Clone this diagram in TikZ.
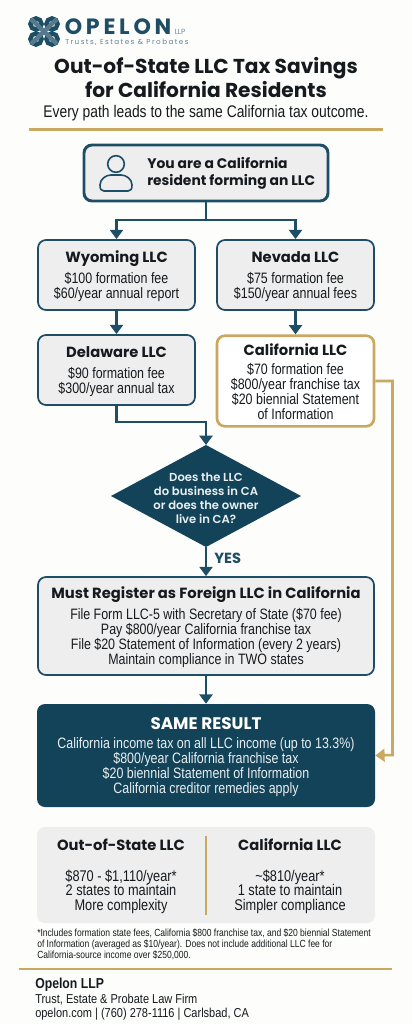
\documentclass[tikz,border=0pt]{standalone}
\usepackage{fontspec}
\setmainfont{Liberation Sans}
\newfontfamily\hdf{Poppins}
\newfontfamily\sbf{Poppins SemiBold}
\newfontfamily\bdf{Liberation Sans}[FakeStretch=0.825]
\newfontfamily\ftf{Liberation Sans}[FakeStretch=0.85]
\usetikzlibrary{arrows.meta,shapes.geometric}
\definecolor{bgc}{HTML}{FDFDFB}
\definecolor{navy}{HTML}{1D4E66}
\definecolor{deep}{HTML}{134359}
\definecolor{gold}{HTML}{C9A961}
\definecolor{panel}{HTML}{EEEEEE}
\definecolor{ink}{HTML}{151A1E}
\definecolor{soft}{HTML}{E9EFF1}
\newcommand{\hdm}[1]{{\rule{0pt}{10.5pt}\hdf\bfseries\fontsize{11.05}{13}\selectfont #1}}
\newcommand{\hdr}[1]{{\rule{0pt}{11.5pt}\hdf\bfseries\color{white}\fontsize{12.6}{13}\selectfont #1}}
\tikzset{
  x=0.75pt,y=-0.75pt,
  body/.style={font=\bdf\fontsize{11.3}{11.25}\selectfont,text=ink,align=center,inner sep=0pt},
  box/.style={body,draw=navy,line width=1.3pt,fill=panel,rounded corners=6pt,minimum width=117.75pt,minimum height=52.5pt},
  goldbox/.style={box,draw=gold,line width=2pt,fill=white,minimum height=68pt},
  widebox/.style={box,minimum width=252pt,minimum height=73.5pt},
  resultbox/.style={body,text=soft,fill=deep,rounded corners=6pt,minimum width=253.5pt,minimum height=77.25pt},
  startbox/.style={draw=navy,line width=2.2pt,fill=panel,rounded corners=6pt,minimum width=183pt,minimum height=42pt},
  decision/.style={diamond,fill=deep,minimum width=142.5pt,minimum height=76.5pt,inner sep=0pt,outer sep=0pt},
  cmp/.style={fill=panel,rounded corners=6pt,minimum width=253.5pt,minimum height=72pt,inner sep=0pt},
  cmptext/.style={body,font=\bdf\fontsize{11.6}{11.1}\selectfont},
  arr/.style={draw=navy,line width=2.2pt,-{Triangle[width=9.75pt,length=7pt]}},
  goldarr/.style={draw=gold,line width=1.9pt,-{Triangle[width=9.5pt,length=7pt]}},
  rule/.style={draw=gold,line width=2.2pt},
  ring/.style={draw=navy,line width=3.3pt},
}
\begin{document}
\begin{tikzpicture}
\useasboundingbox[fill=bgc] (0,0) rectangle (412,1024);
% logo
\foreach \cx/\cy in {36/24,52/24,36/39,52/39}{\draw[ring] (\cx,\cy) circle (5.6);}
\draw[ring,draw=navy!75!white] (31,44) -- (57,19) (31,19) -- (57,44);
\node[anchor=west,inner sep=0pt,text=navy,font=\hdf\bfseries\fontsize{16.6}{18}\selectfont\addfontfeature{LetterSpace=17}] (brand) at (64.5,26.5) {OPELON};
\node[anchor=west,inner sep=0pt,text=navy!65!white,font=\hdf\fontsize{5.6}{6}\selectfont] (llp) at (174.5,32) {LLP};
\node[anchor=west,inner sep=0pt,text=navy!70!white,font=\hdf\fontsize{5.4}{6}\selectfont\addfontfeature{LetterSpace=20}] (tag) at (65,42.5) {Trusts, Estates \& Probates};
% title
\node[inner sep=0pt,align=center,text=ink,font=\hdf\bfseries\fontsize{15.1}{17.4}\selectfont] (title) at (206,77.5) {Out-of-State LLC Tax Savings\\for California Residents};
\node[inner sep=0pt,text=ink,font=\bdf\fontsize{12.6}{14}\selectfont] (sub) at (206,113) {Every path leads to the same California tax outcome.};
\coordinate (r1a) at (29,129.5); \coordinate (r1b) at (383,129.5);
\draw[rule] (r1a) -- (r1b);
% start
\node[startbox] (start) at (206,173) {};
\draw[navy,line width=1.2pt] (116,164) circle (8.3);
\draw[navy,line width=1.2pt] (100,185) .. controls (100,179) and (106,175) .. (111,175) -- (121,175) .. controls (126,175) and (132,179) .. (132,185) .. controls (132,189) and (131,191) .. (128,191) -- (104,191) .. controls (101,191) and (100,189) .. (100,185) -- cycle;
\node[anchor=west,inner sep=0pt,align=left,text=ink,font=\hdf\bfseries\fontsize{10.4}{12.7}\selectfont] (starttext) at (147,173.5) {You are a California\\resident forming an LLC};
% boxes
\node[box] (wy) at (116.5,275) {\hdm{Wyoming LLC}\\[4pt]\$100 formation fee\\\$60/year annual report};
\node[box] (nv) at (295.5,275) {\hdm{Nevada LLC}\\[4pt]\$75 formation fee\\\$150/year annual fees};
\node[box] (de) at (116.5,370) {\hdm{Delaware LLC}\\[4pt]\$90 formation fee\\\$300/year annual tax};
\node[goldbox] (ca) at (295.5,381) {\hdm{California LLC}\\[3pt]\$70 formation fee\\\$800/year franchise tax\\\$20 biennial Statement\\of Information};
% decision
\node[decision] (q) at (206,496) {};
\node[inner sep=0pt,align=center,text=soft,font=\sbf\fontsize{8.7}{10.6}\selectfont] (qtext) at (206,498) {Does the LLC\\do business in CA\\or does the owner\\live in CA?};
% register
\node[widebox] (reg) at (206,626) {\hdm{Must Register as Foreign LLC in California}\\[3pt]File Form LLC-5 with Secretary of State (\$70 fee)\\Pay \$800/year California franchise tax\\File \$20 Statement of Information (every 2 years)\\Maintain compliance in TWO states};
\node[resultbox] (res) at (206,755.5) {\hdr{SAME RESULT}\\[3.5pt]California income tax on all LLC income (up to 13.3\%)\\\$800/year California franchise tax\\\$20 biennial Statement of Information\\California creditor remedies apply};
% connectors
\coordinate (split) at (206,220);
\draw[navy,line width=2.2pt] (start.south) -- (split);
\draw[arr] (split) -| (wy.north);
\draw[arr] (split) -| (nv.north);
\draw[arr] (wy.south) -- (de.north);
\draw[arr] (nv.south) -- (ca.north);
\coordinate (dejog) at (116.5,422);
\draw[arr] (de.south) -- (dejog) -| (q.north);
\draw[arr] (q.south) -- (reg.north);
\node[anchor=west,inner sep=0pt,text=navy,font=\hdf\bfseries\fontsize{11}{12}\selectfont] (yes) at (214,558.5) {YES};
\draw[arr] (reg.south) -- (res.north);
\coordinate (gtop) at (392.5,381); \coordinate (gbot) at (392.5,755);
\draw[goldarr] (ca.east) -- (gtop) -- (gbot) -- (res.east);
% comparison
\node[cmp] (cmpbox) at (206,875) {};
\coordinate (diva) at (206,836); \coordinate (divb) at (206,915);
\draw[gold,line width=2pt] (diva) -- (divb);
\node[cmptext] (cl) at (121,875) {\hdm{Out-of-State LLC}\\[12pt]\$870 - \$1,110/year*\\2 states to maintain\\More complexity};
\node[cmptext] (cr) at (290,875) {\hdm{California LLC}\\[12pt]\textasciitilde\$810/year*\\1 state to maintain\\Simpler compliance};
% note
\node[anchor=north west,inner sep=0pt,align=left,text=ink,font=\bdf\fontsize{7.75}{8.1}\selectfont] (note) at (37,929) {*Includes formation state fees, California \$800 franchise tax, and \$20 biennial Statement\\of Information (averaged as \$10/year). Does not include additional LLC fee for\\California-source income over \$250,000.};
\coordinate (r2a) at (19,969); \coordinate (r2b) at (392,969);
\draw[rule] (r2a) -- (r2b);
% footer
\node[anchor=north west,inner sep=0pt,align=left,text=ink,font=\ftf\fontsize{9.7}{10.8}\selectfont] (foot) at (35,978) {{\fontsize{10.8}{10.8}\selectfont\bfseries Opelon LLP}\\Trust, Estate \& Probate Law Firm\\opelon.com | (760) 278-1116 | Carlsbad, CA};
\end{tikzpicture}
\end{document}
